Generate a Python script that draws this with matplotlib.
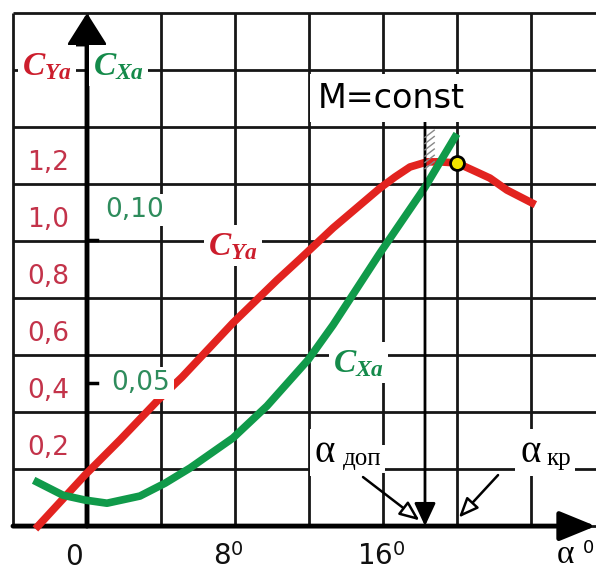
import numpy as np
import matplotlib.pyplot as plt
from matplotlib.patches import FancyArrowPatch

plt.rcParams['mathtext.fontset'] = 'custom'
plt.rcParams['mathtext.rm'] = 'DejaVu Sans'
plt.rcParams['mathtext.it'] = 'Liberation Serif:italic:bold'

# lift coefficient C_Ya against angle of attack (deg)
alpha_cya = [-2.65, -0.11, 1.78, 3.84, 5.14, 7.89, 10.27, 11.51, 13.30, 15.84,
             16.65, 17.46, 18.38, 19.08, 20.0, 21.08, 21.78, 22.70, 24.05]
cya = [-0.074, 0.105, 0.228, 0.368, 0.449, 0.639, 0.789, 0.863, 0.972, 1.112,
       1.151, 1.186, 1.204, 1.204, 1.200, 1.168, 1.147, 1.105, 1.060]

# drag coefficient C_Xa, on its own scale
alpha_cxa = [-2.70, -1.30, -0.11, 1.08, 2.86, 4.22, 5.57, 7.89, 9.73, 11.95,
             13.30, 15.84, 18.27, 19.89]
cxa = [0.0154, 0.0108, 0.0091, 0.0080, 0.0105, 0.0150, 0.0203, 0.0308, 0.0420,
       0.0581, 0.0703, 0.0955, 0.1185, 0.1360]

cya_ticks = [1.2, 1.0, 0.8, 0.6, 0.4, 0.2]
cya_labels = ['1,2', '1,0', '0,8', '0,6', '0,4', '0,2']
cxa_ticks = [0.10, 0.05]
cxa_labels = ['0,10', '0,05']
alpha_ticks = [0, 8, 16]
alpha_labels = ['0', r'$8^{0}$', r'$16^{0}$']

alpha_dop = 18.27
alpha_kr = 20.0
cya_max = 1.2

# C_Xa scale: zero on the alpha axis, 0.05 spans about half of the C_Ya scale
base = -0.074
cx_k = 10.035
def cx2y(v):
    return base + cx_k * np.asarray(v)

RED = '#e2231f'
GREEN = '#109a4a'
RED_T = '#c3334a'
GREEN_T = '#2e8c5c'

fig = plt.figure(figsize=(5.96, 5.71), dpi=100)
ax = fig.add_axes([0, 0, 1, 1])
ax.set_xlim(-4.703, 27.514)
ax.set_ylim(-0.2316, 1.7719)
ax.axis('off')

top = base + 1.8
grid_kw = dict(color='#161616', lw=2.0, zorder=1, solid_capstyle='butt')
for a in range(-4, 25, 4):
    ax.plot([a, a], [base, top], **grid_kw)
for k in range(10):
    ax.plot([-4, 28], [base + 0.2 * k] * 2, **grid_kw)

# axes with arrows
ax.add_patch(FancyArrowPatch((0, base), (0, top), mutation_scale=1,
             arrowstyle='-|>,head_length=19,head_width=12', lw=3.5,
             color='black', shrinkA=0, shrinkB=0, zorder=2))
ax.add_patch(FancyArrowPatch((-4, base), (27.5, base), mutation_scale=1,
             arrowstyle='-|>,head_length=22,head_width=9', lw=3.5,
             color='black', shrinkA=0, shrinkB=0, zorder=2))
for v in cxa_ticks:
    ax.plot([0, 0.55], [cx2y(v)] * 2, color='black', lw=2.5, zorder=2)

# curves
ax.plot(alpha_cya, cya, color=RED, lw=5.5, zorder=3, solid_joinstyle='round')
ax.plot(alpha_cxa, cx2y(cxa), color=GREEN, lw=5.5, zorder=3, solid_joinstyle='round')
ax.plot(alpha_kr, cya_max, 'o', ms=10, mfc='#f2e400', mec='black', mew=2, zorder=5)

# alpha_dop / alpha_kr markers
ax.add_patch(FancyArrowPatch((alpha_dop, 1.347), (alpha_dop, base), mutation_scale=1,
             arrowstyle='-|>,head_length=14,head_width=6.5', lw=2,
             color='black', shrinkA=0, shrinkB=0, zorder=4))
for c in np.arange(1.18, 1.29, 0.022):
    ax.plot([alpha_dop, alpha_dop + 0.5], [c, c + 0.025], color='#888888', lw=1, zorder=4)
ax.add_patch(FancyArrowPatch((14.92, 0.098), (alpha_dop - 0.3, base + 0.02), mutation_scale=1,
             arrowstyle='-|>,head_length=12,head_width=5', lw=1.8,
             fc='white', ec='black', shrinkA=0, shrinkB=0, zorder=4))
ax.add_patch(FancyArrowPatch((22.22, 0.105), (alpha_kr + 0.1, base + 0.03), mutation_scale=1,
             arrowstyle='-|>,head_length=12,head_width=5', lw=1.8,
             fc='white', ec='black', shrinkA=0, shrinkB=0, zorder=4))

box = dict(fc='white', ec='none', boxstyle='square,pad=0.12')

for v, lab in zip(cya_ticks, cya_labels):
    ax.text(-2.1, v, lab, color=RED_T, fontsize=19, ha='center', va='center',
            bbox=box, zorder=6)
ax.text(2.59, 1.035, cxa_labels[0], color=GREEN_T, fontsize=19, ha='center',
        va='center', bbox=box, zorder=6)
ax.text(2.92, 0.428, cxa_labels[1], color=GREEN_T, fontsize=19, ha='center',
        va='center', bbox=box, zorder=6)

for a, lab, x0 in zip(alpha_ticks, alpha_labels, [-1.19, 6.81, 14.59]):
    ax.text(x0, -0.2105, lab, fontsize=20, ha='left', va='baseline', color='#111111')

ax.text(16.43, 1.428, 'M=const', fontsize=24, ha='center', va='center',
        bbox=dict(fc='white', ec='none', boxstyle='square,pad=0.22'), zorder=6)

# coefficient labels
ax.text(-3.51, 1.509, r'$C_{Ya}$', color='#cc1d2c', fontsize=24, ha='left',
        va='baseline', bbox=box, zorder=6)
ax.text(0.32, 1.509, r'$C_{Xa}$', color='#148a4a', fontsize=24, ha='left',
        va='baseline', bbox=box, zorder=6)
ax.text(6.54, 0.877, r'$C_{Ya}$', color='#cc1d2c', fontsize=24, ha='left',
        va='baseline', bbox=box, zorder=6)
ax.text(13.3, 0.467, r'$C_{Xa}$', color='#148a4a', fontsize=24, ha='left',
        va='baseline', bbox=box, zorder=6)

# alpha labels
ax.text(12.32, 0.151, 'α', family='Liberation Serif', fontsize=28, ha='left',
        va='baseline', bbox=box, zorder=6)
ax.text(13.84, 0.140, 'доп', family='Liberation Serif', fontsize=18, ha='left',
        va='baseline', bbox=box, zorder=6)
ax.text(23.41, 0.151, 'α', family='Liberation Serif', fontsize=28, ha='left',
        va='baseline', bbox=box, zorder=6)
ax.text(24.86, 0.140, 'кр', family='Liberation Serif', fontsize=18, ha='left',
        va='baseline', bbox=box, zorder=6)
ax.text(25.4, -0.205, 'α', family='Liberation Serif', fontsize=24, ha='left',
        va='baseline')
ax.text(26.8, -0.15, '0', fontsize=13, ha='left', va='center')

fig.savefig('out.png', dpi=100)
